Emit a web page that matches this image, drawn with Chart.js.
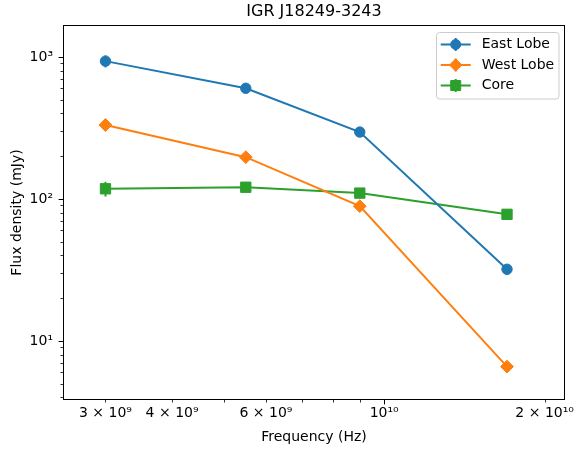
<!DOCTYPE html>
<html><head><meta charset="utf-8">
<script src="https://cdn.jsdelivr.net/npm/chart.js@4.4.0/dist/chart.umd.min.js"></script>
<style>html,body{margin:0;padding:0;background:#fff;}</style>
</head><body>
<canvas id="c" width="575" height="450"></canvas>
<script>
const chartTitle = 'IGR J18249-3243';
const xAxisTitle = 'Frequency (Hz)';
const yAxisTitle = 'Flux density (mJy)';
const frequencies = [3.0e9, 5.5e9, 9.0e9, 1.7e10];
const seriesNames = ['East Lobe', 'West Lobe', 'Core'];
const eastLobe = [935, 602, 296, 32];
const eastLobeErr = [90, 25, 12, 2];
const westLobe = [332, 197, 89, 6.6];
const westLobeErr = [20, 10, 5, 0.4];
const core = [118, 121, 110, 78];
const coreErr = [14, 6, 5, 4];
const xTickValues = [3e9, 4e9, 5e9, 6e9, 7e9, 8e9, 9e9, 1e10, 2e10];
const xTickLabels = ['3 × 10⁹', '4 × 10⁹', '', '6 × 10⁹', '', '', '', '10¹⁰', '2 × 10¹⁰'];
const xTickMajor = [false, false, false, false, false, false, false, true, false];
const yTickValues = [4, 5, 6, 7, 8, 9, 10, 20, 30, 40, 50, 60, 70, 80, 90, 100, 200, 300, 400, 500, 600, 700, 800, 900, 1000];
const yTickLabels = ['', '', '', '', '', '', '10¹', '', '', '', '', '', '', '', '', '10²', '', '', '', '', '', '', '', '', '10³'];
const yTickMajor = yTickValues.map(v => [10, 100, 1000].includes(v));
const xRange = [2.497e9, 2.184e10];
const yRange = [3.84, 1680];

const colors = ['#1f77b4', '#ff7f0e', '#2ca02c'];
const FONT = 'DejaVu Sans';
const LABEL_SIZE = 14;
const values = [eastLobe, westLobe, core];
const errors = [eastLobeErr, westLobeErr, coreErr];
const styles = [
  {pointStyle: 'circle', r: 5.2},
  {pointStyle: 'rectRot', r: 6.4},
  {pointStyle: 'rect', r: 7.3}
];

function drawMarker(ctx, style, x, y, color) {
  ctx.save();
  ctx.fillStyle = color; ctx.strokeStyle = color; ctx.lineWidth = 1;
  ctx.beginPath();
  if (style === 'circle') { ctx.arc(x, y, 5, 0, Math.PI * 2); }
  else if (style === 'rectRot') { const r = 6.2; ctx.moveTo(x, y - r); ctx.lineTo(x + r, y); ctx.lineTo(x, y + r); ctx.lineTo(x - r, y); ctx.closePath(); }
  else { const h = 5; ctx.rect(x - h, y - h, 2 * h, 2 * h); }
  ctx.fill(); ctx.stroke();
  ctx.restore();
}

const extras = {
  id: 'extras',
  beforeDatasetsDraw(chart) {
    const ctx = chart.ctx, xs = chart.scales.x, ys = chart.scales.y;
    ctx.save();
    ctx.lineWidth = 2;
    values.forEach((vals, i) => {
      ctx.strokeStyle = colors[i];
      vals.forEach((v, j) => {
        const px = xs.getPixelForValue(frequencies[j]);
        const y1 = ys.getPixelForValue(v - errors[i][j]);
        const y2 = ys.getPixelForValue(v + errors[i][j]);
        ctx.beginPath(); ctx.moveTo(px, y1); ctx.lineTo(px, y2); ctx.stroke();
      });
    });
    ctx.restore();
  },
  afterDraw(chart) {
    const ctx = chart.ctx, a = chart.chartArea, xs = chart.scales.x, ys = chart.scales.y;
    ctx.save();
    ctx.strokeStyle = '#000'; ctx.lineWidth = 1;
    ctx.strokeRect(a.left + 0.5, a.top + 0.5, a.right - a.left - 1, a.bottom - a.top - 1);
    xTickValues.forEach((v, i) => {
      const px = Math.round(xs.getPixelForValue(v)) + 0.5;
      const len = xTickMajor[i] ? 4.4 : 2.5;
      ctx.lineWidth = xTickMajor[i] ? 1 : 0.8;
      ctx.beginPath(); ctx.moveTo(px, a.bottom); ctx.lineTo(px, a.bottom + len); ctx.stroke();
    });
    yTickValues.forEach((v, i) => {
      const py = Math.round(ys.getPixelForValue(v)) + 0.5;
      const len = yTickMajor[i] ? 4.4 : 2.5;
      ctx.lineWidth = yTickMajor[i] ? 1 : 0.8;
      ctx.beginPath(); ctx.moveTo(a.left, py); ctx.lineTo(a.left - len, py); ctx.stroke();
    });
    ctx.fillStyle = '#000';
    ctx.font = '16px "' + FONT + '"';
    ctx.textAlign = 'center'; ctx.textBaseline = 'middle';
    ctx.fillText(chartTitle, (a.left + a.right) / 2, 12);
    const bx = 436.5, by = 32.5, bw = 122.5, bh = 66.5;
    ctx.beginPath();
    if (ctx.roundRect) ctx.roundRect(bx, by, bw, bh, 3); else ctx.rect(bx, by, bw, bh);
    ctx.fillStyle = 'rgba(255,255,255,0.8)'; ctx.fill();
    ctx.strokeStyle = '#cccccc'; ctx.lineWidth = 1; ctx.stroke();
    const rowY = [44.5, 65, 85.5];
    seriesNames.forEach((name, i) => {
      const y = rowY[i];
      ctx.strokeStyle = colors[i]; ctx.lineWidth = 2;
      ctx.beginPath(); ctx.moveTo(440.7, y); ctx.lineTo(470.7, y); ctx.stroke();
      ctx.beginPath(); ctx.moveTo(455.7, y - 6.5); ctx.lineTo(455.7, y + 6.5); ctx.stroke();
      drawMarker(ctx, styles[i].pointStyle, 455.7, y, colors[i]);
      ctx.fillStyle = '#000'; ctx.font = LABEL_SIZE + 'px "' + FONT + '"';
      ctx.textAlign = 'left'; ctx.textBaseline = 'middle';
      ctx.fillText(name, 481.7, y);
    });
    ctx.restore();
  }
};

const datasets = seriesNames.map((name, i) => ({
  label: name,
  data: frequencies.map((f, j) => ({x: f, y: values[i][j]})),
  showLine: true,
  borderColor: colors[i],
  backgroundColor: colors[i],
  borderWidth: 2,
  pointStyle: styles[i].pointStyle,
  pointRadius: styles[i].r,
  pointHoverRadius: styles[i].r,
  pointBorderWidth: 1,
  pointBorderColor: colors[i],
  pointBackgroundColor: colors[i],
  tension: 0
}));

new Chart(document.getElementById('c'), {
  type: 'scatter',
  data: {datasets},
  options: {
    responsive: false,
    animation: false,
    devicePixelRatio: 1,
    layout: {padding: {top: 25, right: 10, bottom: 0, left: 0}},
    plugins: {legend: {display: false}, title: {display: false}, tooltip: {enabled: false}},
    scales: {
      x: {
        type: 'logarithmic', min: xRange[0], max: xRange[1], bounds: 'data',
        afterBuildTicks: s => { s.ticks = xTickValues.map(v => ({value: v})); },
        afterFit: s => { s.height = 50; s.paddingLeft = 0; s.paddingRight = 0; },
        ticks: {
          autoSkip: false, maxRotation: 0, minRotation: 0, padding: 5, color: '#000',
          font: {family: FONT, size: LABEL_SIZE},
          callback: (v, i) => { const k = xTickValues.indexOf(v); return k >= 0 ? xTickLabels[k] : ''; }
        },
        grid: {display: true, drawOnChartArea: false, drawTicks: false},
        border: {display: false},
        title: {display: true, text: xAxisTitle, color: '#000', font: {family: FONT, size: LABEL_SIZE}, padding: {top: 0, bottom: 4.6}}
      },
      y: {
        type: 'logarithmic', min: yRange[0], max: yRange[1], bounds: 'data',
        afterBuildTicks: s => { s.ticks = yTickValues.map(v => ({value: v})); },
        afterFit: s => { s.width = 63; s.paddingTop = 0; s.paddingBottom = 0; },
        ticks: {
          autoSkip: false, padding: 10, color: '#000',
          font: {family: FONT, size: LABEL_SIZE},
          callback: (v, i) => { const k = yTickValues.indexOf(v); return k >= 0 ? yTickLabels[k] : ''; }
        },
        grid: {display: true, drawOnChartArea: false, drawTicks: false},
        border: {display: false},
        title: {display: true, text: yAxisTitle, color: '#000', font: {family: FONT, size: LABEL_SIZE}, padding: {top: 8.6, bottom: 0}}
      }
    }
  },
  plugins: [extras]
});
</script>
</body></html>
